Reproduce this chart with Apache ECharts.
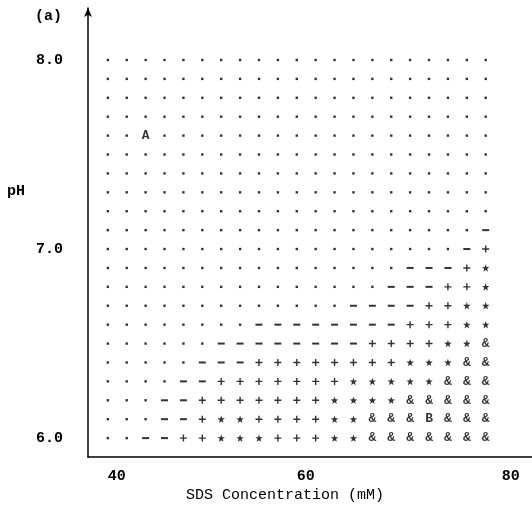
<!DOCTYPE html>
<html>
<head>
<meta charset="utf-8">
<script src="https://cdn.jsdelivr.net/npm/echarts@6/dist/echarts.min.js"></script>
<style>
html,body{margin:0;padding:0;background:#fff;}
#chart{width:532px;height:508px;}
</style>
</head>
<body>
<div id="chart"></div>
<script>
// SDS concentration (mM) of each column of the phase map
const sdsConcentrations = [40, 42, 44, 46, 48, 50, 52, 54, 56, 58, 60, 62, 64, 66, 68, 70, 72, 74, 76, 78, 80];
// pH of each row, top to bottom
const pHLevels = [8.0, 7.9, 7.8, 7.7, 7.6, 7.5, 7.4, 7.3, 7.2, 7.1, 7.0, 6.9, 6.8, 6.7, 6.6, 6.5, 6.4, 6.3, 6.2, 6.1, 6.0];
// phase symbol observed at each (pH, SDS) cell, one string per pH row
const phaseRows = [
  ".....................",
  ".....................",
  ".....................",
  ".....................",
  "..A..................",
  ".....................",
  ".....................",
  ".....................",
  ".....................",
  "....................-",
  "...................-+",
  "................---+*",
  "...............---++*",
  ".............----++**",
  "........--------+++**",
  "......--------++++**&",
  ".....---++++++++***&&",
  "....--+++++++*****&&&",
  "...--+++++++****&&&&&",
  "...--+**++++**&&&B&&&",
  "..--++***+++**&&&&&&&"
];
const xTickLabels = [40, 60, 80];
const yTickLabels = [6.0, 7.0, 8.0];

const FONT = '"Liberation Mono", "DejaVu Sans Mono", monospace';
const PLUS = 'path://M-1,-5L1,-5L1,-1L5,-1L5,1L1,1L1,5L-1,5L-1,1L-5,1L-5,-1L-1,-1Z';
const STAR = 'path://M0,-10L2.35,-3.24L9.51,-3.09L3.8,1.24L5.88,8.09L0,4L-5.88,8.09L-3.8,1.24L-9.51,-3.09L-2.35,-3.24Z';

function pointsFor(ch) {
  const pts = [];
  phaseRows.forEach((row, r) => {
    for (let c = 0; c < row.length; c++) {
      if (row[c] === ch) pts.push([sdsConcentrations[c], pHLevels[r]]);
    }
  });
  return pts;
}

const shapeSeries = [
  { ch: '.', symbol: 'rect', size: [2.4, 2.4] },
  { ch: '-', symbol: 'rect', size: [7, 2] },
  { ch: '+', symbol: PLUS, size: [7, 7] },
  { ch: '*', symbol: STAR, size: [7.5, 7.5] }
].map(s => ({
  type: 'scatter',
  name: s.ch,
  data: pointsFor(s.ch),
  symbol: s.symbol,
  symbolSize: s.size,
  itemStyle: { color: '#000' },
  silent: true
}));

const textSeries = ['&', 'A', 'B'].map(ch => ({
  type: 'scatter',
  name: ch,
  data: pointsFor(ch),
  symbol: 'circle',
  symbolSize: 1,
  itemStyle: { color: 'rgba(0,0,0,0)' },
  label: {
    show: true,
    position: 'inside',
    formatter: ch,
    color: '#000',
    fontFamily: FONT,
    fontWeight: 'bold',
    fontSize: 13
  },
  silent: true
}));

const chart = echarts.init(document.getElementById('chart'));
chart.setOption({
  animation: false,
  backgroundColor: '#fff',
  grid: { left: 88, right: 0, top: 8, bottom: 51, containLabel: false },
  xAxis: {
    type: 'value',
    min: 37.9,
    max: 84.9,
    axisLine: { show: true, lineStyle: { color: '#000', width: 1.5 } },
    axisTick: { show: false },
    splitLine: { show: false },
    axisLabel: {
      customValues: xTickLabels,
      formatter: v => (v === 80 ? '{far|' + v + '}' : String(v)),
      align: 'left',
      margin: 12,
      color: '#000',
      fontFamily: FONT,
      fontWeight: 'bold',
      fontSize: 15,
      rich: {
        far: { padding: [0, 0, 0, 16], color: '#000', fontFamily: FONT, fontWeight: 'bold', fontSize: 15 }
      }
    }
  },
  yAxis: {
    type: 'value',
    min: 5.9,
    max: 8.275,
    axisLine: {
      show: true,
      symbol: ['none', 'arrow'],
      symbolSize: [6, 9],
      lineStyle: { color: '#000', width: 1.5 }
    },
    axisTick: { show: false },
    splitLine: { show: false },
    axisLabel: {
      customValues: yTickLabels,
      formatter: v => v.toFixed(1),
      margin: 25,
      color: '#000',
      fontFamily: FONT,
      fontWeight: 'bold',
      fontSize: 15
    }
  },
  graphic: [
    { type: 'text', left: 35, top: 9, style: { text: '(a)', font: 'bold 15px ' + FONT, fill: '#000' } },
    { type: 'text', left: 7, top: 184, style: { text: 'pH', font: 'bold 15px ' + FONT, fill: '#000' } },
    { type: 'text', x: 285, y: 495, style: { text: 'SDS Concentration (mM)', font: '15px ' + FONT, fill: '#000', textAlign: 'center', textVerticalAlign: 'middle' } }
  ],
  series: shapeSeries.concat(textSeries)
});
</script>
</body>
</html>
